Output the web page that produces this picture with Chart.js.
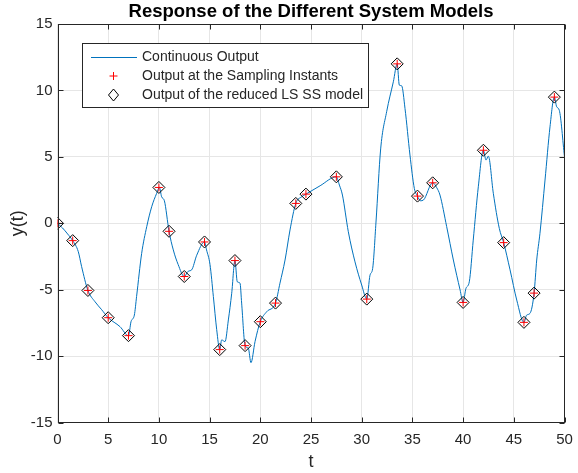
<!DOCTYPE html>
<html>
<head>
<meta charset="utf-8">
<script src="https://cdn.jsdelivr.net/npm/chart.js@4.4.1/dist/chart.umd.min.js"></script>
<style>
  html, body { margin: 0; padding: 0; background: #fff; }
  #wrap { width: 578px; height: 473px; }
</style>
</head>
<body>
<div id="wrap"><canvas id="responseChart" width="578" height="473"></canvas></div>
<script>
// continuous response y(t)
const contT = [0, 0.5, 1.0, 1.5, 2.05, 2.38, 3.0, 3.7, 4.36, 5.0, 6.16, 7.0, 7.25, 7.58, 7.8, 8.3, 8.8, 9.29, 9.78, 10.05,
  10.27, 10.54, 11.0, 11.42, 11.9, 12.5, 12.9, 13.23, 13.73, 14.5, 14.7, 15.04, 15.37, 15.7, 16.0, 16.19, 16.52, 16.85, 17.18, 17.5,
  17.73, 18.0, 18.16, 18.5, 18.82, 19.08, 19.48, 20.0, 20.63, 21.5, 21.94, 22.44, 22.93, 23.5, 24.08, 24.5, 25.9, 27.5, 27.8, 28.1,
  28.68, 29.34, 30.0, 30.5, 30.82, 31.08, 31.41, 31.87, 32.46, 33.12, 33.5, 33.71, 33.94, 34.27, 34.76, 35.19, 35.5, 35.8, 36.08, 37.0,
  37.4, 37.72, 38.38, 39.04, 39.7, 40.0, 40.28, 40.61, 41.0, 41.5, 42.0, 42.26, 42.49, 42.98, 43.57, 44.0, 44.63, 45.29, 46.0, 46.27,
  46.6, 47.0, 47.26, 47.58, 48.08, 48.57, 49.0, 49.23, 49.49, 50.0];
const contY = [0, -0.35, -0.8, -1.3, -2.13, -3.26, -5.05, -5.9, -6.5, -7.1, -7.77, -8.45, -7.4, -6.9, -5.5, -2.26, -0.25, 1.25, 2.26, 2.7,
  2.0, 1.7, -0.6, -2.0, -3.1, -4.0, -3.6, -3.5, -2.4, -1.4, -2.0, -3.1, -5.5, -8.0, -9.5, -8.77, -8.9, -7.27, -5.26, -2.8,
  -4.4, -4.5, -6.0, -9.2, -9.4, -10.48, -8.9, -7.4, -6.65, -6.0, -4.5, -2.76, -0.5, 1.5, 2.0, 2.2, 2.83, 3.5, 2.88, 2.13,
  -0.63, -2.9, -4.64, -5.7, -3.9, -3.4, 0.1, 5.6, 8.4, 10.65, 12.0, 10.4, 10.35, 8.65, 5.14, 2.63, 2.05, 1.7, 1.75, 3.05,
  2.68, 2.13, -0.25, -2.76, -5.0, -5.95, -4.9, -4.4, -1.26, 2.75, 5.5, 4.76, 5.06, 2.26, -0.38, -1.45, -3.5, -5.77, -7.45, -6.9,
  -6.77, -5.25, -2.76, -0.75, 3.26, 7.26, 9.5, 8.77, 8.5, 5.0];

// sampling instants and sampled output
const sampleT = [0, 1.5, 3, 5, 7, 10, 11, 12.5, 14.5, 16, 17.5, 18.5, 20, 21.5, 23.5, 24.5, 27.5, 30.5, 33.5, 35.5, 37, 40, 42, 44, 46, 47, 49];
const sampleY = [0, -1.3, -5.05, -7.1, -8.45, 2.7, -0.6, -4.0, -1.4, -9.5, -2.8, -9.2, -7.4, -6.0, 1.5, 2.2, 3.5, -5.7, 12.0, 2.05, 3.05, -5.95, 5.5, -1.45, -7.45, -5.25, 9.5];
// reduced LS state-space model output at the same instants
const reducedY = [0, -1.3, -5.05, -7.1, -8.45, 2.7, -0.6, -4.0, -1.4, -9.5, -2.8, -9.2, -7.4, -6.0, 1.5, 2.2, 3.5, -5.7, 12.0, 2.05, 3.05, -5.95, 5.5, -1.45, -7.45, -5.25, 9.5];

const xTicks = [0, 5, 10, 15, 20, 25, 30, 35, 40, 45, 50];
const yTicks = [-15, -10, -5, 0, 5, 10, 15];
const seriesNames = ['Continuous Output', 'Output at the Sampling Instants', 'Output of the reduced LS SS model'];

const FONT = 'Arial, "Liberation Sans", Helvetica, sans-serif';
const AXIS = '#262626';
const BLUE = '#0072BD';

const toXY = (xs, ys) => xs.map((x, i) => ({ x: x, y: ys[i] }));

// axes box, inward ticks, title, axis labels and legend (MATLAB look)
const decorations = {
  id: 'decorations',
  afterDraw(chart) {
    const { ctx, chartArea: a, scales } = chart;
    const L = Math.round(a.left) + 0.5, R = Math.round(a.right) - 0.5;
    const T = Math.round(a.top) + 0.5, B = Math.round(a.bottom) - 0.5;
    ctx.save();
    ctx.strokeStyle = AXIS;
    ctx.lineWidth = 1;
    ctx.strokeRect(L, T, R - L, B - T);
    const tl = 5;
    ctx.beginPath();
    xTicks.forEach(v => {
      const px = Math.round(scales.x.getPixelForValue(v)) + 0.5;
      ctx.moveTo(px, B); ctx.lineTo(px, B - tl);
      ctx.moveTo(px, T); ctx.lineTo(px, T + tl);
    });
    yTicks.forEach(v => {
      const py = Math.round(scales.y.getPixelForValue(v)) + 0.5;
      ctx.moveTo(L, py); ctx.lineTo(L + tl, py);
      ctx.moveTo(R, py); ctx.lineTo(R - tl, py);
    });
    ctx.stroke();

    // title
    ctx.fillStyle = '#000';
    ctx.font = 'bold 18.5px ' + FONT;
    ctx.textAlign = 'center';
    ctx.textBaseline = 'middle';
    ctx.fillText('Response of the Different System Models', (a.left + a.right) / 2, 12);

    // axis labels
    ctx.fillStyle = AXIS;
    ctx.font = '18px ' + FONT;
    ctx.fillText('t', (a.left + a.right) / 2, 462);
    ctx.save();
    ctx.translate(18, (a.top + a.bottom) / 2);
    ctx.rotate(-Math.PI / 2);
    ctx.fillText('y(t)', 0, 0);
    ctx.restore();

    // legend
    const bx = 82.5, by = 43.5, bw = 286, bh = 64;
    ctx.fillStyle = '#fff';
    ctx.fillRect(bx, by, bw, bh);
    ctx.strokeStyle = AXIS;
    ctx.strokeRect(bx, by, bw, bh);
    const rows = [57, 76, 95];
    ctx.font = '14px ' + FONT;
    ctx.textAlign = 'left';
    ctx.fillStyle = AXIS;
    seriesNames.forEach((name, i) => ctx.fillText(name, 142, rows[i]));
    ctx.strokeStyle = BLUE;
    ctx.beginPath();
    ctx.moveTo(91, rows[0] + 0.5); ctx.lineTo(137, rows[0] + 0.5);
    ctx.stroke();
    ctx.strokeStyle = '#ff0000';
    ctx.beginPath();
    ctx.moveTo(113.5, rows[1] - 4); ctx.lineTo(113.5, rows[1] + 4);
    ctx.moveTo(109.5, rows[1]); ctx.lineTo(117.5, rows[1]);
    ctx.stroke();
    ctx.strokeStyle = '#000';
    ctx.beginPath();
    ctx.moveTo(113.5, rows[2] - 6); ctx.lineTo(118.5, rows[2]);
    ctx.lineTo(113.5, rows[2] + 6); ctx.lineTo(108.5, rows[2]);
    ctx.closePath();
    ctx.stroke();
    ctx.restore();
  }
};

new Chart(document.getElementById('responseChart'), {
  type: 'scatter',
  data: {
    datasets: [
      {
        label: seriesNames[0],
        data: toXY(contT, contY),
        showLine: true,
        borderColor: BLUE,
        borderWidth: 1,
        pointRadius: 0,
        cubicInterpolationMode: 'monotone',
        order: 3
      },
      {
        label: seriesNames[1],
        data: toXY(sampleT, sampleY),
        pointStyle: 'cross',
        pointRadius: 4,
        borderColor: '#ff0000',
        borderWidth: 1,
        order: 2
      },
      {
        label: seriesNames[2],
        data: toXY(sampleT, reducedY),
        pointStyle: 'rectRot',
        pointRadius: 6,
        borderColor: '#000',
        backgroundColor: 'rgba(0,0,0,0)',
        borderWidth: 1,
        order: 1
      }
    ]
  },
  options: {
    responsive: false,
    animation: false,
    layout: { padding: { top: 24, right: 13.5, left: 0, bottom: 0 } },
    plugins: {
      legend: { display: false },
      tooltip: { enabled: false }
    },
    scales: {
      x: {
        type: 'linear',
        min: 0,
        max: 50,
        afterFit: (scale) => {
          scale.height = 50.3;
          scale.paddingLeft = 0;
          scale.paddingRight = 0;
        },
        afterBuildTicks: (scale) => { scale.ticks = xTicks.map(v => ({ value: v })); },
        grid: { color: '#e6e6e6', drawTicks: false },
        border: { display: false },
        ticks: { color: AXIS, font: { family: FONT, size: 15 }, padding: 8, maxRotation: 0 }
      },
      y: {
        type: 'linear',
        min: -15,
        max: 15,
        afterFit: (scale) => {
          scale.width = 57.5;
          scale.paddingTop = 0;
          scale.paddingBottom = 0;
        },
        afterBuildTicks: (scale) => { scale.ticks = yTicks.map(v => ({ value: v })); },
        grid: { color: '#e6e6e6', drawTicks: false },
        border: { display: false },
        ticks: { color: AXIS, font: { family: FONT, size: 15 }, padding: 5 }
      }
    }
  },
  plugins: [decorations]
});
</script>
</body>
</html>
